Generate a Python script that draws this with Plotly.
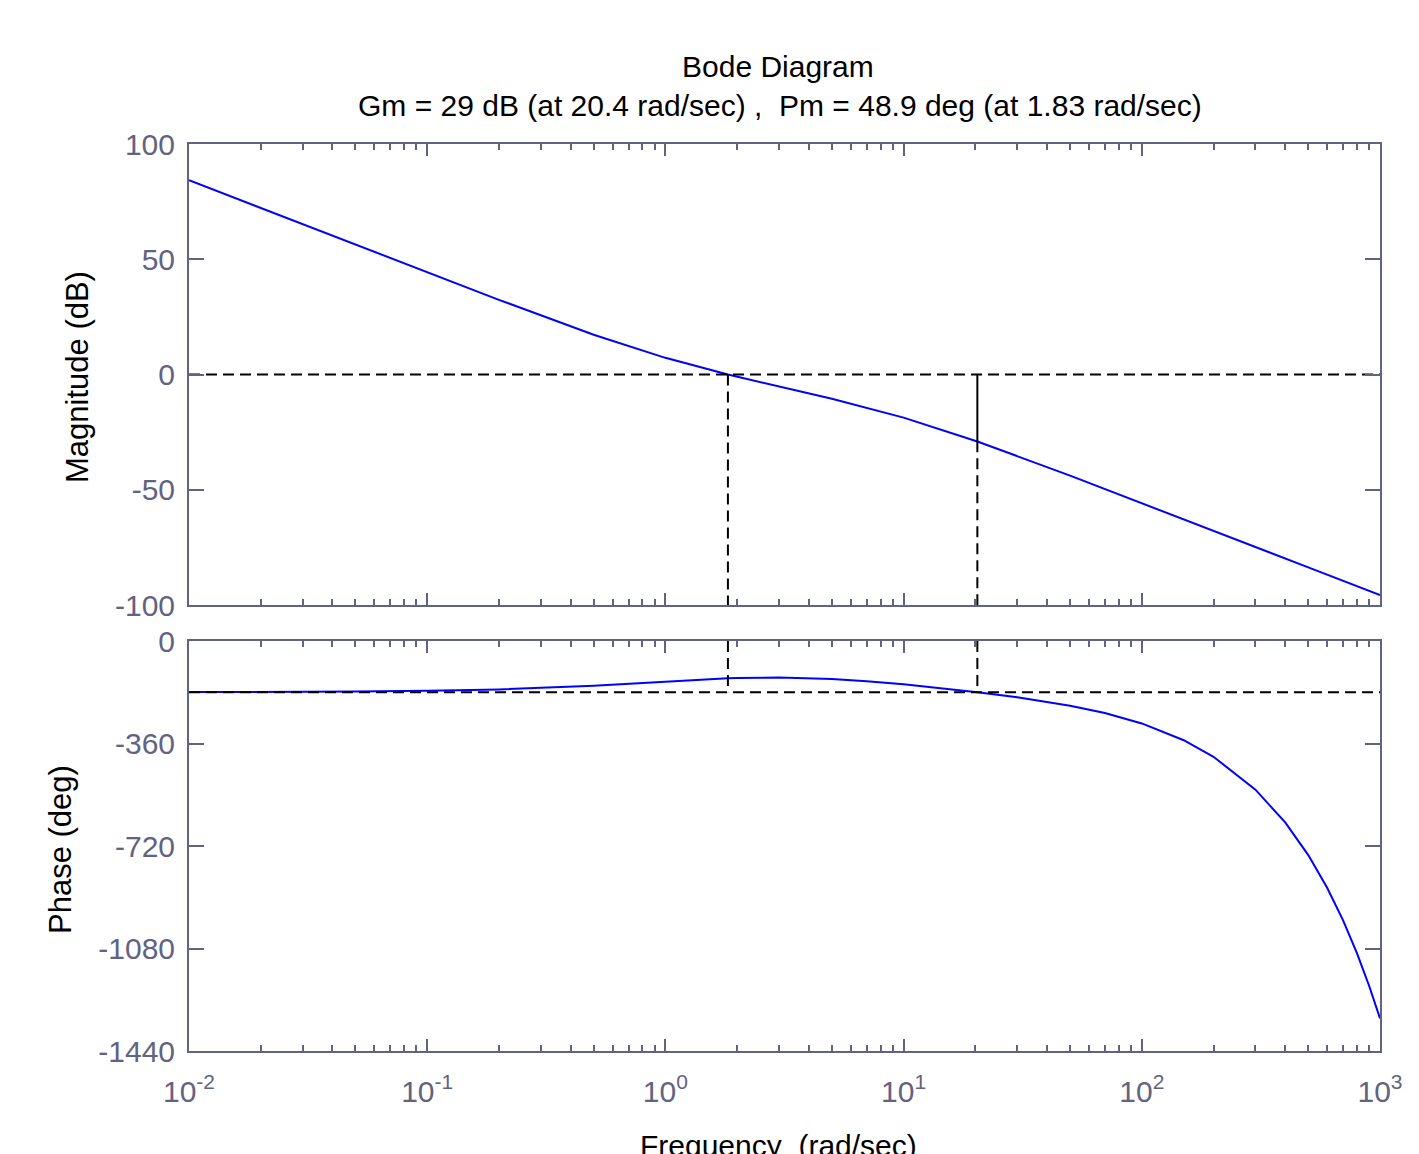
import plotly.graph_objects as go

# ---------------- data ----------------
freq_mag = [0.01, 0.02, 0.05, 0.1, 0.2, 0.5, 1, 1.83, 2, 5, 10, 20.4, 50, 100, 200, 500, 1000]
mag_db = [84.26, 72.22, 56.31, 44.30, 32.39, 17.26, 7.23, 0.00, -0.96, -10.52, -18.71,
          -29.05, -43.87, -55.78, -67.79, -83.70, -95.74]

freq_phase = [0.01, 0.02, 0.05, 0.1, 0.2, 0.5, 1, 1.83, 2, 3, 5, 7, 10, 20.4, 30, 50, 70,
              100, 150, 200, 300, 400, 500, 600, 700, 800, 900, 1000]
phase_deg = [-179.5, -179.0, -177.5, -175.0, -170.1, -156.9, -141.9, -131.1, -130.2, -128.6,
             -133.6, -141.1, -152.2, -180.1, -197.9, -227.1, -252.9, -289.5, -348.5, -406.6,
             -522.1, -637.1, -751.9, -866.7, -981.4, -1096.1, -1210.8, -1325.4]

gm_db = 29          # gain margin (dB)
gm_freq = 20.4      # phase crossover frequency (rad/sec)
pm_deg = 48.9       # phase margin (deg)
pm_freq = 1.83      # gain crossover frequency (rad/sec)

x_range = [0.01, 1000]
mag_range = [-100, 100]
mag_ticks = [-100, -50, 0, 50, 100]
phase_range = [-1440, 0]
phase_ticks = [0, -360, -720, -1080, -1440]
x_major = [0.01, 0.1, 1, 10, 100, 1000]
x_major_text = ["10<sup>-2</sup>", "10<sup>-1</sup>", "10<sup>0</sup>",
                "10<sup>1</sup>", "10<sup>2</sup>", "10<sup>3</sup>"]
x_minor = [m * d for d in [0.01, 0.1, 1, 10, 100] for m in range(2, 10)]

title_line1 = "Bode Diagram"
title_line2 = ("Gm = %g dB (at %g rad/sec) ,  Pm = %g deg (at %g rad/sec)"
               % (gm_db, gm_freq, pm_deg, pm_freq))

# ---------------- styling ----------------
AX = "#626282"
FONT = "Liberation Sans, Arial, sans-serif"
W, H = 1419, 1154
OFF = 8  # page body margin
ML, MR, MT, MB = 189 - OFF, 1419 - 1380 + OFF, 144 - OFF, 1154 - 1051 + OFF
plot_h = H - MT - MB
plot_w = W - ML - MR


def py(pix):
    return (H - MB - (pix - OFF)) / plot_h


def px(pix):
    return ((pix - OFF) - ML) / plot_w


top_lo = py(605)
bot_hi = py(641)

fig = go.Figure()

blue = dict(color="#0000ff", width=2)
blk_dash = dict(color="black", width=2, dash="11px,6px")
blk_solid = dict(color="black", width=2)

# magnitude curve
fig.add_trace(go.Scatter(x=freq_mag, y=mag_db, mode="lines", line=blue,
                         xaxis="x", yaxis="y", showlegend=False, hoverinfo="skip"))
# phase curve
fig.add_trace(go.Scatter(x=freq_phase, y=phase_deg, mode="lines", line=blue,
                         xaxis="x2", yaxis="y2", showlegend=False, hoverinfo="skip"))

# margin lines (magnitude)
mag_at_gm = -gm_db
fig.add_trace(go.Scatter(x=x_range, y=[0, 0], mode="lines", line=blk_dash,
                         xaxis="x", yaxis="y", showlegend=False, hoverinfo="skip"))
fig.add_trace(go.Scatter(x=[pm_freq, pm_freq], y=[0, mag_range[0]], mode="lines", line=blk_dash,
                         xaxis="x", yaxis="y", showlegend=False, hoverinfo="skip"))
fig.add_trace(go.Scatter(x=[gm_freq, gm_freq], y=[mag_at_gm, mag_range[0]], mode="lines",
                         line=blk_dash, xaxis="x", yaxis="y", showlegend=False, hoverinfo="skip"))
fig.add_trace(go.Scatter(x=[gm_freq, gm_freq], y=[0, mag_at_gm], mode="lines", line=blk_solid,
                         xaxis="x", yaxis="y", showlegend=False, hoverinfo="skip"))

# margin lines (phase)
fig.add_trace(go.Scatter(x=x_range, y=[-180, -180], mode="lines", line=blk_dash,
                         xaxis="x2", yaxis="y2", showlegend=False, hoverinfo="skip"))
fig.add_trace(go.Scatter(x=[pm_freq, pm_freq], y=[0, -180], mode="lines", line=blk_dash,
                         xaxis="x2", yaxis="y2", showlegend=False, hoverinfo="skip"))
fig.add_trace(go.Scatter(x=[gm_freq, gm_freq], y=[0, -180], mode="lines", line=blk_dash,
                         xaxis="x2", yaxis="y2", showlegend=False, hoverinfo="skip"))

TICKFONT = dict(family=FONT, size=30, color=AX)
xcommon = dict(type="log", range=[-2, 3], showline=True, linecolor=AX, linewidth=2,
               mirror="allticks", ticks="inside", ticklen=12, tickwidth=2, tickcolor=AX,
               tickvals=x_major, showgrid=False, zeroline=False,
               minor=dict(tickvals=x_minor, ticks="inside", ticklen=6, tickwidth=2,
                          tickcolor=AX, showgrid=False),
               tickfont=TICKFONT)
ycommon = dict(showline=True, linecolor=AX, linewidth=2, mirror="allticks",
               ticks="inside", ticklen=15, tickwidth=2, tickcolor=AX,
               showgrid=False, zeroline=False, ticklabelstandoff=6,
               tickfont=TICKFONT)

fig.update_layout(
    width=W, height=H,
    margin=dict(l=ML, r=MR, t=MT, b=MB, pad=0),
    paper_bgcolor="white", plot_bgcolor="white",
    xaxis=dict(xcommon, domain=[0, 1], anchor="y", showticklabels=False),
    yaxis=dict(ycommon, domain=[top_lo, 1], range=mag_range, tickvals=mag_ticks,
               ticktext=[str(v) for v in mag_ticks], anchor="x"),
    xaxis2=dict(xcommon, domain=[0, 1], anchor="y2", ticktext=x_major_text,
                ticklabelstandoff=13),
    yaxis2=dict(ycommon, domain=[0, bot_hi], range=phase_range, tickvals=phase_ticks,
                ticktext=[str(v) for v in phase_ticks], anchor="x2"),
)

ann = [
    dict(text=title_line1, x=px(778), y=py(67)),
    dict(text=title_line2, x=px(780), y=py(106)),
    dict(text="Frequency  (rad/sec)", x=px(778), y=py(1145)),
]
for a in ann:
    fig.add_annotation(text=a["text"], x=a["x"], y=a["y"], xref="paper", yref="paper",
                       showarrow=False, xanchor="center", yanchor="middle",
                       font=dict(family=FONT, size=30, color="black"))
fig.add_annotation(text="Magnitude (dB)", x=px(77), y=py(377), xref="paper", yref="paper",
                   showarrow=False, textangle=-90, xanchor="center", yanchor="middle",
                   font=dict(family=FONT, size=31, color="black"))
fig.add_annotation(text="Phase (deg)", x=px(60), y=py(850), xref="paper", yref="paper",
                   showarrow=False, textangle=-90, xanchor="center", yanchor="middle",
                   font=dict(family=FONT, size=31, color="black"))

fig.write_html("out.html")
